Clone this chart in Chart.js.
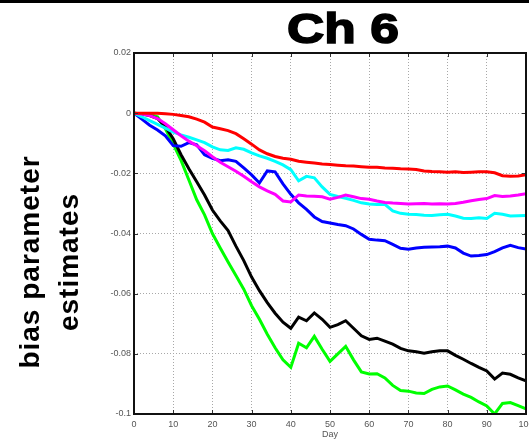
<!DOCTYPE html>
<html>
<head>
<meta charset="utf-8">
<script src="https://cdn.jsdelivr.net/npm/chart.js@4"></script>
<style>
  html, body { margin: 0; padding: 0; background: #fff; overflow: hidden; }
  #wrap { width: 529px; height: 444px; overflow: hidden; position: relative; }
  canvas { display: block; }
</style>
</head>
<body>
<div id="wrap"><canvas id="biasChart" width="545" height="444"></canvas></div>
<script>
// days sampled every 2 days
const days = [0, 2, 4, 6, 8, 10, 12, 14, 16, 18, 20, 22, 24, 26, 28, 30, 32, 34, 36, 38, 40,
  42, 44, 46, 48, 50, 52, 54, 56, 58, 60, 62, 64, 66, 68, 70, 72, 74, 76, 78, 80,
  82, 84, 86, 88, 90, 92, 94, 96, 98, 100];

const redBias = [0, 0, 0, 0, -0.0002, -0.0004, -0.0008, -0.0012, -0.002, -0.003, -0.0046,
  -0.0052, -0.0058, -0.0068, -0.0085, -0.0103, -0.0122, -0.0135, -0.0144, -0.015, -0.0153,
  -0.016, -0.0163, -0.0166, -0.0169, -0.0171, -0.0173, -0.0175, -0.0176, -0.0178, -0.018,
  -0.018, -0.0182, -0.0183, -0.0185, -0.0186, -0.0187, -0.0192, -0.0194, -0.0195, -0.0196,
  -0.0195, -0.0197, -0.0196, -0.0195, -0.0195, -0.0198, -0.0208, -0.021, -0.0209, -0.0205];

const magentaBias = [0, -0.0003, -0.0008, -0.0018, -0.0035, -0.0055, -0.0075, -0.0093, -0.0108, -0.0125, -0.0145,
  -0.0163, -0.0178, -0.0193, -0.021, -0.0228, -0.0245, -0.0258, -0.027, -0.0292, -0.0295,
  -0.0272, -0.0275, -0.0276, -0.0278, -0.0286, -0.028, -0.0272, -0.0278, -0.0284, -0.0286,
  -0.0292, -0.0297, -0.0299, -0.03, -0.0302, -0.0301, -0.03, -0.0302, -0.0301, -0.0302,
  -0.03, -0.0296, -0.0291, -0.0287, -0.0284, -0.0274, -0.0277, -0.0275, -0.0272, -0.0268];

const cyanBias = [0, -0.0012, -0.0025, -0.0037, -0.005, -0.0063, -0.0072, -0.008, -0.0089, -0.0098, -0.0112,
  -0.0122, -0.0124, -0.0115, -0.012, -0.0132, -0.0142, -0.015, -0.016, -0.0172, -0.0188,
  -0.0225, -0.021, -0.0215, -0.0245, -0.027, -0.0277, -0.0283, -0.029, -0.0298, -0.0302,
  -0.0304, -0.0303, -0.0325, -0.0333, -0.0336, -0.0337, -0.0339, -0.034, -0.0338, -0.0336,
  -0.0342, -0.0349, -0.035, -0.0348, -0.035, -0.0333, -0.0336, -0.0342, -0.0341, -0.034];

const blueBias = [0, -0.002, -0.004, -0.0056, -0.0075, -0.0108, -0.011, -0.0098, -0.0105, -0.0138, -0.015,
  -0.0158, -0.0155, -0.016, -0.0182, -0.0205, -0.0232, -0.0192, -0.0195, -0.0235, -0.027,
  -0.0298, -0.032, -0.0345, -0.036, -0.0365, -0.037, -0.0374, -0.0385, -0.0403, -0.0419,
  -0.0422, -0.0424, -0.0436, -0.0449, -0.0452, -0.0448, -0.0446, -0.0445, -0.0444, -0.0442,
  -0.0448, -0.0465, -0.0475, -0.0473, -0.047, -0.046, -0.0448, -0.0439, -0.0447, -0.0452];

const blackBias = [0, -0.0003, -0.0008, -0.0018, -0.0045, -0.0085, -0.0138, -0.0185, -0.0228, -0.0272, -0.0322,
  -0.0358, -0.039, -0.0442, -0.049, -0.0545, -0.059, -0.063, -0.0665, -0.0695, -0.0715,
  -0.0678, -0.069, -0.0664, -0.0685, -0.0712, -0.0703, -0.069, -0.0715, -0.074, -0.0752,
  -0.0748, -0.0758, -0.0768, -0.0782, -0.079, -0.0793, -0.0798, -0.0793, -0.079, -0.079,
  -0.0805, -0.0818, -0.0832, -0.0845, -0.0857, -0.0884, -0.0864, -0.0868, -0.088, -0.089];

const greenBias = [0, -0.0002, -0.0004, -0.0012, -0.0052, -0.0102, -0.0157, -0.0222, -0.0288, -0.0338, -0.04,
  -0.0448, -0.0495, -0.054, -0.0585, -0.064, -0.0685, -0.0735, -0.078, -0.082, -0.0845,
  -0.0765, -0.078, -0.0742, -0.0785, -0.0825, -0.08, -0.0775, -0.082, -0.086, -0.0867,
  -0.0866, -0.088, -0.0905, -0.0922, -0.0924, -0.093, -0.0932, -0.0918, -0.091, -0.0907,
  -0.092, -0.0934, -0.0945, -0.096, -0.0973, -0.1, -0.0965, -0.0962, -0.0972, -0.0983];

const xTicks = [0, 10, 20, 30, 40, 50, 60, 70, 80, 90, 100];
const yTicks = [0.02, 0, -0.02, -0.04, -0.06, -0.08, -0.1];

const titleText = 'Ch 6';
const yTitleLines = ['bias parameter', 'estimates'];

function series(label, values, color) {
  return {
    label: label,
    data: days.map((d, i) => ({ x: d, y: values[i] })),
    borderColor: color,
    backgroundColor: color,
    borderWidth: 3,
    pointRadius: 0,
    tension: 0
  };
}

// frame, inward ticks, big title and rotated y label
const decorations = {
  id: 'decorations',
  afterDraw(chart) {
    const ctx = chart.ctx;
    const a = chart.chartArea;
    const sx = chart.scales.x, sy = chart.scales.y;
    ctx.save();

    // heavy rule along the top edge
    ctx.fillStyle = '#000';
    ctx.fillRect(0, 0, chart.width, 3);

    // inward tick marks on all four sides
    ctx.strokeStyle = '#333';
    ctx.lineWidth = 1;
    ctx.beginPath();
    sx.ticks.forEach(t => {
      const px = Math.round(sx.getPixelForValue(t.value)) + 0.5;
      ctx.moveTo(px, a.bottom); ctx.lineTo(px, a.bottom - 4);
      ctx.moveTo(px, a.top); ctx.lineTo(px, a.top + 4);
    });
    sy.ticks.forEach(t => {
      const py = Math.round(sy.getPixelForValue(t.value)) + 0.5;
      ctx.moveTo(a.left, py); ctx.lineTo(a.left + 4, py);
      ctx.moveTo(a.right, py); ctx.lineTo(a.right - 4, py);
    });
    ctx.stroke();

    // axes box
    ctx.strokeStyle = '#111';
    ctx.lineWidth = 2;
    ctx.strokeRect(a.left, a.top, a.right - a.left, a.bottom - a.top);

    // chart title
    ctx.fillStyle = '#000';
    ctx.strokeStyle = '#000';
    ctx.lineWidth = 1.6;
    ctx.textAlign = 'center';
    ctx.textBaseline = 'alphabetic';
    ctx.font = 'bold 43px "Liberation Sans", Arial, sans-serif';
    ctx.save();
    ctx.translate(343, 43);
    ctx.scale(1.2, 1);
    ctx.fillText(titleText, 0, 0);
    ctx.strokeText(titleText, 0, 0);
    ctx.restore();

    // y axis label, two lines rotated
    ctx.font = 'bold 28px "Liberation Sans", Arial, sans-serif';
    ctx.letterSpacing = '1px';
    ctx.save();
    ctx.translate(0, 262);
    ctx.rotate(-Math.PI / 2);
    ctx.fillText(yTitleLines[0], 0, 39);
    ctx.fillText(yTitleLines[1], 0, 78);
    ctx.restore();

    ctx.restore();
  }
};

const tickFont = { family: 'Arial, "Liberation Sans", sans-serif', size: 9 };

new Chart(document.getElementById('biasChart').getContext('2d'), {
  type: 'line',
  data: {
    datasets: [
      series('red', redBias, '#ff0000'),
      series('magenta', magentaBias, '#ff00ff'),
      series('cyan', cyanBias, '#00ffff'),
      series('blue', blueBias, '#0000ff'),
      series('black', blackBias, '#000000'),
      series('green', greenBias, '#00ff00')
    ]
  },
  options: {
    responsive: false,
    animation: false,
    devicePixelRatio: 1,
    layout: { padding: { left: 0, top: 53, right: 19, bottom: 0 } },
    plugins: {
      legend: { display: false },
      tooltip: { enabled: false },
      title: { display: false }
    },
    scales: {
      x: {
        type: 'linear',
        min: 0,
        max: 100,
        afterBuildTicks: s => { s.ticks = xTicks.map(v => ({ value: v })); },
        afterFit: s => { s.height = 30; },
        ticks: { font: tickFont, color: '#555', padding: 5, maxRotation: 0, autoSkip: false },
        grid: { color: '#a8a8a8', lineWidth: 1, drawTicks: false },
        border: { display: false, dash: [1, 2] },
        title: { display: true, text: 'Day', font: tickFont, color: '#555', padding: { top: 0, bottom: 4 } }
      },
      y: {
        min: -0.1,
        max: 0.02,
        afterBuildTicks: s => { s.ticks = yTicks.map(v => ({ value: v })); },
        afterFit: s => { s.width = 134; },
        ticks: {
          font: tickFont,
          color: '#555',
          padding: 3,
          autoSkip: false,
          callback: v => String(Number(v.toFixed(2)))
        },
        grid: { color: '#a8a8a8', lineWidth: 1, drawTicks: false },
        border: { display: false, dash: [1, 2] }
      }
    }
  },
  plugins: [decorations]
});
</script>
</body>
</html>
